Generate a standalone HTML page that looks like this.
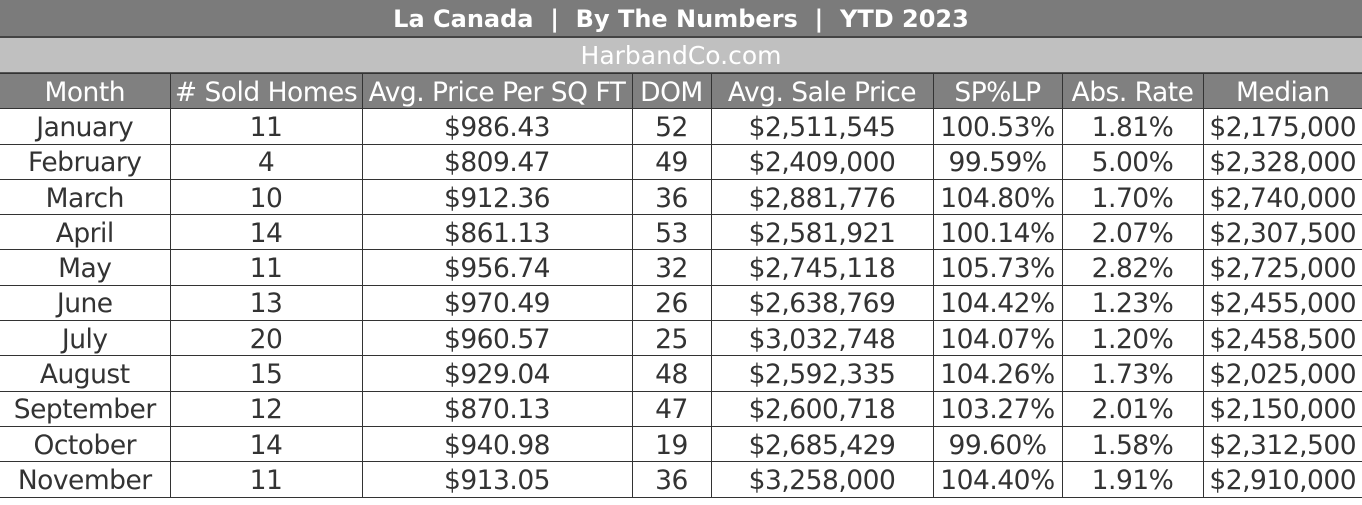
<!DOCTYPE html>
<html><head><meta charset="utf-8"><style>
body{margin:0;width:1362px;height:505px;overflow:hidden;background:#fff;font-family:"DejaVu Sans","Liberation Sans",sans-serif;}
.title{position:absolute;left:0;top:0;width:1362px;height:36px;background:#7b7b7b;color:#fff;font-weight:bold;font-size:24px;line-height:38px;text-align:center;border-bottom:2px solid #444;}
.sub{position:absolute;left:0;top:38px;width:1362px;height:34px;background:#c0c0c0;color:#fff;font-size:25px;line-height:36px;text-align:center;border-bottom:1px solid #555;}
table{position:absolute;left:0;top:73px;border-collapse:collapse;table-layout:fixed;width:1362px;}
td,th{height:35.3px;padding:3px 0 0 0;box-sizing:border-box;border:1.5px solid #333;text-align:center;font-size:26.5px;line-height:30px;font-weight:normal;color:#333;white-space:nowrap;overflow:hidden;letter-spacing:-0.5px}
th{background:#808080;color:#fff;}
td:first-child,th:first-child{border-left:none}
td:last-child,th:last-child{border-right:none}
</style></head><body>
<div class="title">La Canada &nbsp;| &nbsp;By The Numbers &nbsp;| &nbsp;YTD 2023</div>
<div class="sub">HarbandCo.com</div>
<table>
<colgroup><col style="width:170px"><col style="width:192px"><col style="width:270px"><col style="width:79px"><col style="width:222px"><col style="width:129px"><col style="width:141px"><col style="width:159px"></colgroup>
<thead><tr><th>Month</th><th># Sold Homes</th><th>Avg. Price Per SQ FT</th><th>DOM</th><th>Avg. Sale Price</th><th>SP%LP</th><th>Abs. Rate</th><th>Median</th></tr></thead>
<tbody id="tb"></tbody></table>
<script>
const months=["January","February","March","April","May","June","July","August","September","October","November"];
const sold=["11","4","10","14","11","13","20","15","12","14","11"];
const ppsf=["$986.43","$809.47","$912.36","$861.13","$956.74","$970.49","$960.57","$929.04","$870.13","$940.98","$913.05"];
const dom=["52","49","36","53","32","26","25","48","47","19","36"];
const asp=["$2,511,545","$2,409,000","$2,881,776","$2,581,921","$2,745,118","$2,638,769","$3,032,748","$2,592,335","$2,600,718","$2,685,429","$3,258,000"];
const splp=["100.53%","99.59%","104.80%","100.14%","105.73%","104.42%","104.07%","104.26%","103.27%","99.60%","104.40%"];
const abs=["1.81%","5.00%","1.70%","2.07%","2.82%","1.23%","1.20%","1.73%","2.01%","1.58%","1.91%"];
const median=["$2,175,000","$2,328,000","$2,740,000","$2,307,500","$2,725,000","$2,455,000","$2,458,500","$2,025,000","$2,150,000","$2,312,500","$2,910,000"];
const tb=document.getElementById('tb');
months.forEach((m,i)=>{
  const tr=document.createElement('tr');
  
  
  [m,sold[i],ppsf[i],dom[i],asp[i],splp[i],abs[i],median[i]].forEach(v=>{
    const td=document.createElement('td');
    
    
    td.textContent=v;tr.appendChild(td);
  });
  tb.appendChild(tr);
});
</script>
</body></html>
